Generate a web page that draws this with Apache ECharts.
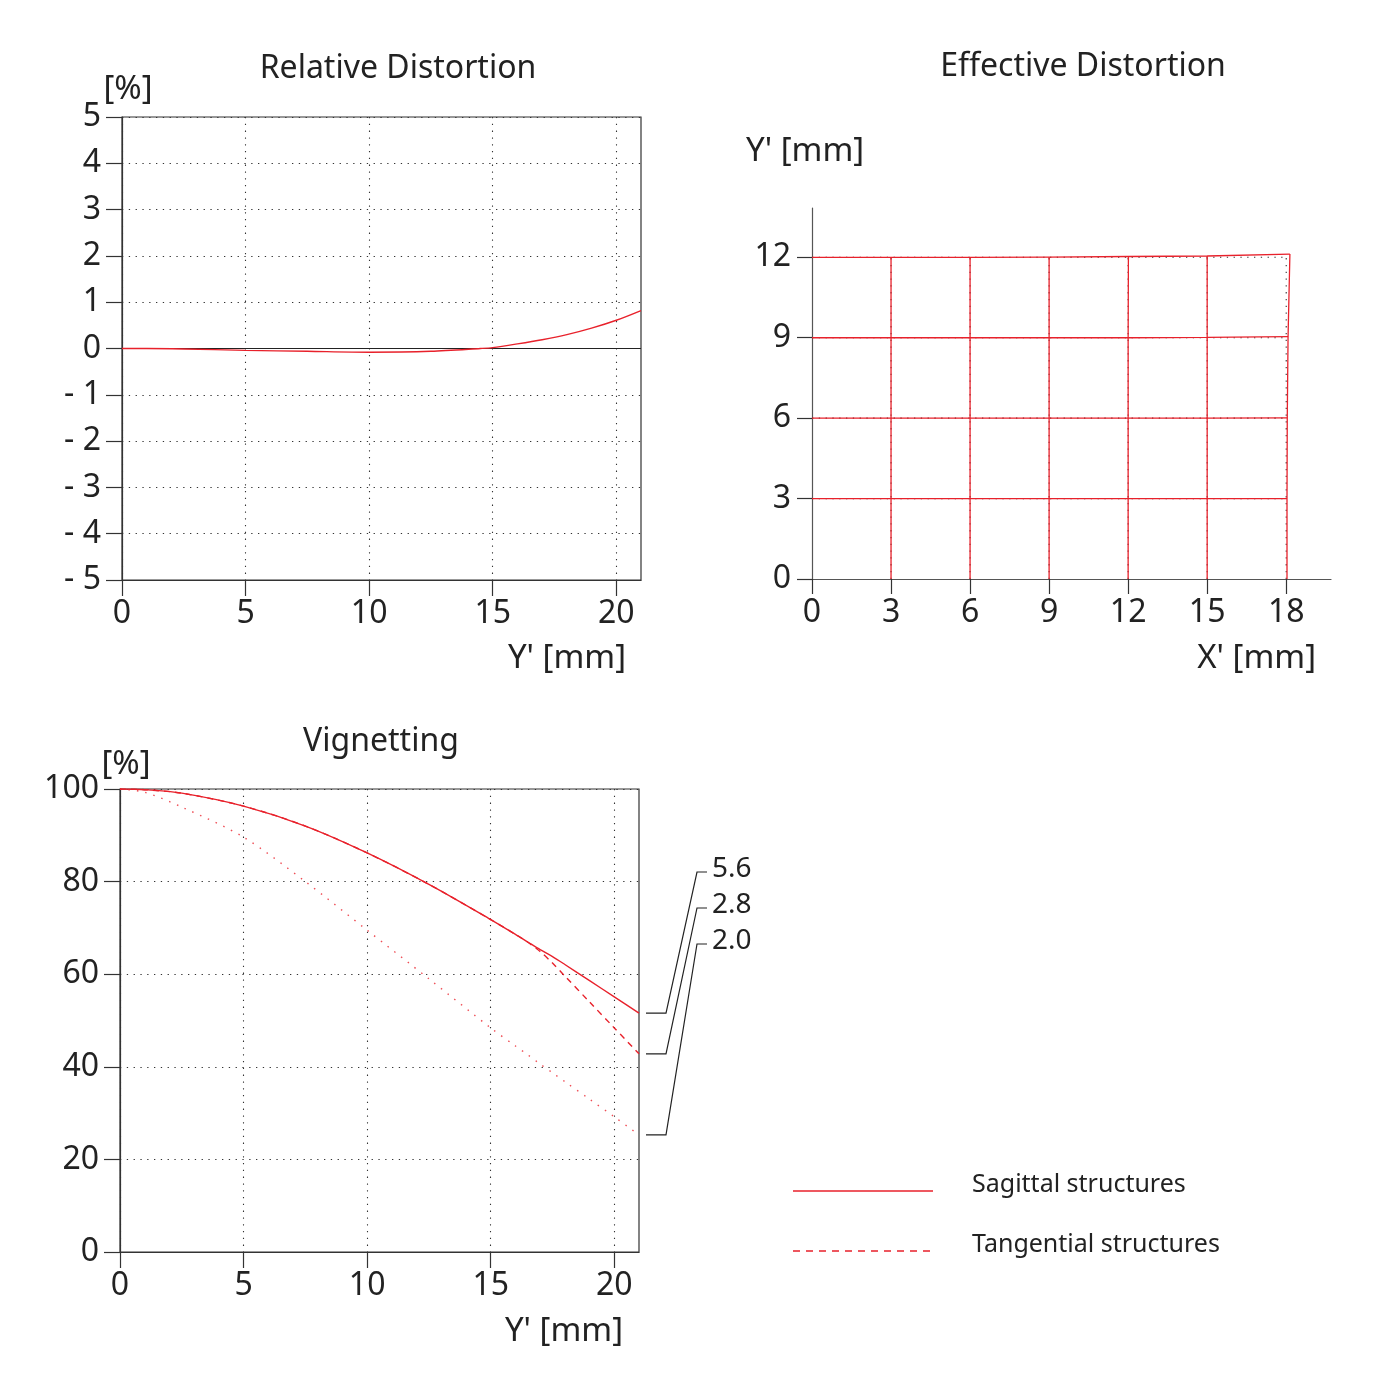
<!DOCTYPE html>
<html>
<head>
<meta charset="utf-8">
<script src="https://cdn.jsdelivr.net/npm/echarts@6/dist/echarts.min.js"></script>
<style>html,body{margin:0;padding:0;background:#fff}#c{width:1400px;height:1400px}</style>
</head>
<body>
<div id="c"></div>
<script>
// ---------- Relative distortion ----------
const rdX = [0, 1, 2.5, 5, 7.5, 10, 12.5, 14.5, 15, 16, 17, 18, 19, 20, 21];
const rdY = [0, 0, -0.01, -0.04, -0.06, -0.08, -0.06, 0, 0.02, 0.10, 0.19, 0.30, 0.44, 0.61, 0.82];
const rdXTicks = [0, 5, 10, 15, 20];

// ---------- Effective distortion (object grid -> image grid) ----------
const edCols = [0, 3, 6, 9, 12, 15, 18];
const edRows = [0, 3, 6, 9, 12];
const edXp = [
  [0, 3, 6, 9, 12, 15, 18.03],
  [0, 3, 6, 9, 12, 15, 18.03],
  [0, 3, 6, 9, 12, 15, 18.04],
  [0, 3, 6, 9, 12, 15, 18.07],
  [0, 3, 6, 9, 12.01, 15, 18.14]
];
const edYp = [
  [0, 0, 0, 0, 0, 0, 0],
  [3, 3, 3, 3, 3, 3, 3],
  [6, 6, 6, 6, 6, 6, 6.01],
  [9, 9, 9, 9, 9, 9.01, 9.04],
  [12, 12, 12, 12.01, 12.03, 12.05, 12.12]
];

// ---------- Vignetting ----------
const vigX   = [0, 1, 2.5, 5, 7.5, 10, 12.5, 15, 16, 16.5, 17, 17.5, 18, 19, 20, 21];
const vig56  = [100, 99.85, 99.1, 96.3, 92.0, 86.2, 79.4, 71.8, 68.6, 66.95, 65.3, 63.8, 62.1, 58.6, 55.1, 51.6];
const vig28  = [100, 99.85, 99.1, 96.3, 92.0, 86.2, 79.4, 71.8, 68.6, 66.9, 64.9, 62.4, 59.6, 54.0, 48.4, 42.8];
const vig20  = [100, 99.3, 96.1, 89.6, 80.0, 69.5, 59.0, 48.4, 44.5, 42.6, 40.6, 38.7, 36.8, 33.0, 29.2, 25.3];
const vigNames = ['5.6', '2.8', '2.0'];
const vigXTicks = [0, 5, 10, 15, 20];

const FONT = '"Noto Sans", "Open Sans", sans-serif';
const INK = '#222';
const AX = '#333';
const RED = '#e8212b';
const dotted = { type: [1.3, 5.5], color: '#333', width: 1.1 };
const zip = (xs, ys) => xs.map((x, i) => [x, ys[i]]);

const lab = (extra) => Object.assign({ fontSize: 32, fontFamily: FONT, color: INK, padding: [4, 0, 0, 0] }, extra);

const series = [];
// Relative distortion
series.push({ type: 'line', xAxisIndex: 0, yAxisIndex: 0, data: [[0, 0], [21, 0]], symbol: 'none', silent: true,
  lineStyle: { color: INK, width: 1.2 } });
series.push({ type: 'line', name: 'Relative distortion', xAxisIndex: 0, yAxisIndex: 0, data: zip(rdX, rdY), symbol: 'none', smooth: 0.3,
  lineStyle: { color: RED, width: 1.4 } });

// Effective distortion: ideal dotted grid
for (let i = 1; i < edRows.length; i++) {
  series.push({ type: 'line', xAxisIndex: 1, yAxisIndex: 1, symbol: 'none', silent: true,
    data: [[0, edRows[i]], [edCols[edCols.length - 1], edRows[i]]], lineStyle: dotted });
}
for (let j = 1; j < edCols.length; j++) {
  series.push({ type: 'line', xAxisIndex: 1, yAxisIndex: 1, symbol: 'none', silent: true,
    data: [[edCols[j], 0], [edCols[j], edRows[edRows.length - 1]]], lineStyle: dotted });
}
// distorted grid
for (let i = 1; i < edRows.length; i++) {
  series.push({ type: 'line', xAxisIndex: 1, yAxisIndex: 1, symbol: 'none',
    data: edCols.map((c, j) => [edXp[i][j], edYp[i][j]]), lineStyle: { color: RED, width: 1.3 } });
}
for (let j = 1; j < edCols.length; j++) {
  series.push({ type: 'line', xAxisIndex: 1, yAxisIndex: 1, symbol: 'none',
    data: edRows.map((r, i) => [edXp[i][j], edYp[i][j]]), lineStyle: { color: RED, width: 1.3 } });
}

// Vignetting
const vigData = [vig56, vig28, vig20];
const vigStyles = [
  { color: RED, width: 1.4, type: 'solid' },
  { color: RED, width: 1.4, type: [6, 5] },
  { color: '#ef4d55', width: 1.4, type: [1.5, 7] }
];
vigData.forEach((d, k) => {
  series.push({ type: 'line', name: vigNames[k], xAxisIndex: 2, yAxisIndex: 2, symbol: 'none', smooth: 0.3,
    data: zip(vigX, d), lineStyle: vigStyles[k], z: 3 - k });
});

const option = {
  animation: false,
  backgroundColor: '#fff',
  grid: [
    { left: 122, top: 117, width: 519, height: 463, show: true, borderColor: AX, borderWidth: 1.2 },
    { left: 812, top: 208, width: 519, height: 371 },
    { left: 120, top: 789, width: 519, height: 463, show: true, borderColor: AX, borderWidth: 1.2 }
  ],
  xAxis: [
    { gridIndex: 0, type: 'value', min: 0, max: 21, interval: 5,
      axisLine: { onZero: false, lineStyle: { color: AX, width: 1.2 } },
      axisTick: { length: 16, customValues: rdXTicks, lineStyle: { color: AX, width: 1.2 } },
      axisLabel: lab({ margin: 14, customValues: rdXTicks }),
      splitLine: { show: true, lineStyle: dotted } },
    { gridIndex: 1, type: 'value', min: 0, max: 19.7, interval: 3,
      axisLine: { onZero: false, lineStyle: { color: '#555', width: 1.2 } },
      axisTick: { length: 15, customValues: edCols, lineStyle: { color: AX, width: 1.2 } },
      axisLabel: lab({ margin: 14, customValues: edCols }),
      splitLine: { show: false } },
    { gridIndex: 2, type: 'value', min: 0, max: 21, interval: 5,
      axisLine: { onZero: false, lineStyle: { color: AX, width: 1.2 } },
      axisTick: { length: 16, customValues: vigXTicks, lineStyle: { color: AX, width: 1.2 } },
      axisLabel: lab({ margin: 14, customValues: vigXTicks }),
      splitLine: { show: true, lineStyle: dotted } }
  ],
  yAxis: [
    { gridIndex: 0, type: 'value', min: -5, max: 5, interval: 1,
      axisLine: { onZero: false, lineStyle: { color: AX, width: 1.2 } },
      axisTick: { length: 16, lineStyle: { color: AX, width: 1.2 } },
      axisLabel: lab({ margin: 21, formatter: v => v < 0 ? '- ' + (-v) : String(v) }),
      splitLine: { show: true, lineStyle: dotted } },
    { gridIndex: 1, type: 'value', min: 0, max: 13.84, interval: 3,
      axisLine: { onZero: false, lineStyle: { color: '#555', width: 1.2 } },
      axisTick: { length: 15, customValues: edRows, lineStyle: { color: AX, width: 1.2 } },
      axisLabel: lab({ margin: 21, customValues: edRows }),
      splitLine: { show: false } },
    { gridIndex: 2, type: 'value', min: 0, max: 100, interval: 20,
      axisLine: { onZero: false, lineStyle: { color: AX, width: 1.2 } },
      axisTick: { length: 16, lineStyle: { color: AX, width: 1.2 } },
      axisLabel: lab({ margin: 21 }),
      splitLine: { show: true, lineStyle: dotted } }
  ],
  series: series
};

const chart = echarts.init(document.getElementById('c'), null, { renderer: 'canvas' });
chart.setOption(option);

// ---------- texts, leader lines, legend ----------
const txt = (text, x, y, align, size) => ({ type: 'text', x: x, y: y, silent: true,
  style: { text: text, font: (size || 32) + 'px ' + FONT, fill: INK, align: align || 'center', verticalAlign: 'middle' } });

const g = [
  txt('Relative Distortion', 398, 69, 'center', 32),
  txt('[%]', 128, 90, 'center', 33),
  txt("Y' [mm]", 626, 659, 'right', 33),
  txt('Effective Distortion', 1083, 67, 'center', 32),
  txt("Y' [mm]", 746, 152, 'left', 33),
  txt("X' [mm]", 1316, 659, 'right', 33),
  txt('Vignetting', 381, 742, 'center', 32),
  txt('[%]', 126, 765, 'center', 33),
  txt("Y' [mm]", 623, 1332, 'right', 33)
];

const labelY = [869, 905, 941];
vigData.forEach((d, k) => {
  const p = chart.convertToPixel({ gridIndex: 2 }, [vigX[vigX.length - 1], d[d.length - 1]]);
  const px = p[0], py = p[1], ly = labelY[k] + 3;
  g.push({ type: 'polyline', silent: true,
    shape: { points: [[px + 7, py], [px + 27, py], [px + 58, ly], [px + 68, ly]] },
    style: { stroke: INK, lineWidth: 1.2, fill: null } });
  g.push(txt(vigNames[k], px + 73, labelY[k], 'left', 28));
});

// legend
g.push({ type: 'line', silent: true, shape: { x1: 793, y1: 1191, x2: 933, y2: 1191 }, style: { stroke: RED, lineWidth: 1.5 } });
g.push({ type: 'line', silent: true, shape: { x1: 793, y1: 1251, x2: 933, y2: 1251 }, style: { stroke: RED, lineWidth: 1.5, lineDash: [7, 6] } });
g.push(txt('Sagittal structures', 972, 1185, 'left', 25));
g.push(txt('Tangential structures', 972, 1245, 'left', 25));

chart.setOption({ graphic: g });
</script>
</body>
</html>
